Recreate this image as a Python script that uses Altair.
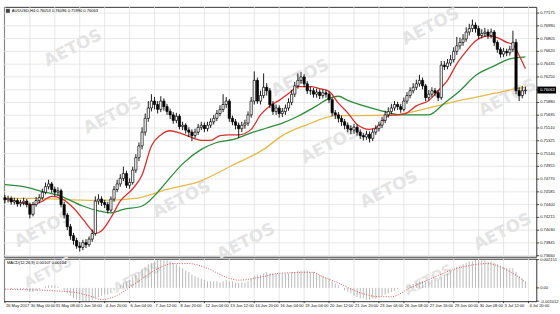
import altair as alt
import pandas as pd

# ---------------- data ----------------
closes = [
    0.7447, 0.7449, 0.7444, 0.7446, 0.7441, 0.7443, 0.7445, 0.7440, 0.7426, 0.7440,
    0.7446, 0.7450, 0.7458, 0.7466, 0.7470, 0.7462, 0.7458, 0.7460, 0.7440, 0.7425,
    0.7408, 0.7395, 0.7388, 0.7380, 0.7378, 0.7385, 0.7382, 0.7390, 0.7398, 0.7445,
    0.7448, 0.7443, 0.7440, 0.7432, 0.7448, 0.7462, 0.7470, 0.7478, 0.7485, 0.7468,
    0.7472, 0.7490, 0.7508, 0.7525, 0.7545, 0.7565, 0.7580, 0.7590, 0.7585, 0.7578,
    0.7590, 0.7582, 0.7575, 0.7570, 0.7562, 0.7568, 0.7553, 0.7555, 0.7548, 0.7545,
    0.7540, 0.7545, 0.7552, 0.7555, 0.7550, 0.7555, 0.7560, 0.7565, 0.7572, 0.7578,
    0.7585, 0.7590, 0.7565, 0.7560, 0.7555, 0.7550, 0.7555, 0.7558, 0.7570, 0.7590,
    0.7620, 0.7590, 0.7598, 0.7610, 0.7605, 0.7585, 0.7575, 0.7580, 0.7572, 0.7575,
    0.7580, 0.7588, 0.7600, 0.7612, 0.7620, 0.7625, 0.7615, 0.7605, 0.7605, 0.7600,
    0.7603, 0.7598, 0.7602, 0.7600, 0.7592, 0.7573, 0.7570, 0.7565, 0.7560, 0.7555,
    0.7550, 0.7548, 0.7552, 0.7545, 0.7540, 0.7538, 0.7542, 0.7536, 0.7545, 0.7550,
    0.7555, 0.7562, 0.7570, 0.7575, 0.7580, 0.7585, 0.7582, 0.7578, 0.7590, 0.7598,
    0.7605, 0.7610, 0.7615, 0.7620, 0.7612, 0.7595, 0.7600, 0.7605, 0.7602, 0.7595,
    0.7642, 0.7640, 0.7645, 0.7650, 0.7662, 0.7670, 0.7675, 0.7680, 0.7690, 0.7695,
    0.7700, 0.7695, 0.7685, 0.7688, 0.7690, 0.7685, 0.7690, 0.7675, 0.7665, 0.7658,
    0.7662, 0.7660, 0.7665, 0.7675, 0.7605, 0.7598, 0.7605, 0.7606,
]
first_open = 0.7450
highs = [
    0.7454, 0.7453, 0.7452, 0.7450, 0.7449, 0.7447, 0.7450, 0.7448, 0.7443, 0.7444,
    0.7451, 0.7455, 0.7463, 0.7472, 0.7476, 0.7473, 0.7466, 0.7465, 0.7463, 0.7444,
    0.7428, 0.7412, 0.7399, 0.7392, 0.7386, 0.7389, 0.7390, 0.7394, 0.7404, 0.7452,
    0.7455, 0.7452, 0.7447, 0.7444, 0.7452, 0.7467, 0.7476, 0.7484, 0.7495, 0.7489,
    0.7478, 0.7495, 0.7513, 0.7530, 0.7552, 0.7572, 0.7590, 0.7600, 0.7596, 0.7590,
    0.7597, 0.7594, 0.7586, 0.7579, 0.7574, 0.7573, 0.7571, 0.7560, 0.7558, 0.7552,
    0.7549, 0.7550, 0.7557, 0.7560, 0.7559, 0.7560, 0.7565, 0.7570, 0.7577, 0.7584,
    0.7600, 0.7596, 0.7593, 0.7569, 0.7564, 0.7559, 0.7560, 0.7563, 0.7575, 0.7596,
    0.7633, 0.7624, 0.7605, 0.7630, 0.7616, 0.7609, 0.7590, 0.7585, 0.7584, 0.7580,
    0.7585, 0.7594, 0.7606, 0.7618, 0.7630, 0.7632, 0.7629, 0.7619, 0.7611, 0.7609,
    0.7608, 0.7607, 0.7607, 0.7606, 0.7604, 0.7595, 0.7577, 0.7574, 0.7569, 0.7564,
    0.7559, 0.7555, 0.7557, 0.7556, 0.7549, 0.7544, 0.7547, 0.7546, 0.7550, 0.7555,
    0.7560, 0.7567, 0.7576, 0.7581, 0.7586, 0.7590, 0.7589, 0.7586, 0.7595, 0.7603,
    0.7610, 0.7616, 0.7621, 0.7628, 0.7624, 0.7615, 0.7606, 0.7610, 0.7609, 0.7606,
    0.7648, 0.7648, 0.7651, 0.7657, 0.7668, 0.7683, 0.7682, 0.7687, 0.7697, 0.7702,
    0.7708, 0.7704, 0.7699, 0.7694, 0.7696, 0.7694, 0.7695, 0.7693, 0.7678, 0.7668,
    0.7667, 0.7666, 0.7670, 0.7692, 0.7680, 0.7610, 0.7612, 0.7611,
]
lows = [
    0.7442, 0.7443, 0.7440, 0.7440, 0.7437, 0.7437, 0.7439, 0.7436, 0.7420, 0.7423,
    0.7437, 0.7442, 0.7447, 0.7455, 0.7462, 0.7457, 0.7452, 0.7453, 0.7436, 0.7420,
    0.7403, 0.7389, 0.7382, 0.7376, 0.7372, 0.7374, 0.7377, 0.7379, 0.7386, 0.7395,
    0.7440, 0.7438, 0.7435, 0.7427, 0.7429, 0.7444, 0.7458, 0.7466, 0.7474, 0.7464,
    0.7463, 0.7469, 0.7486, 0.7503, 0.7520, 0.7540, 0.7560, 0.7575, 0.7578, 0.7572,
    0.7574, 0.7576, 0.7570, 0.7564, 0.7557, 0.7558, 0.7549, 0.7548, 0.7543, 0.7538,
    0.7532, 0.7536, 0.7541, 0.7548, 0.7545, 0.7546, 0.7551, 0.7556, 0.7561, 0.7568,
    0.7574, 0.7580, 0.7560, 0.7555, 0.7549, 0.7537, 0.7545, 0.7550, 0.7554, 0.7566,
    0.7585, 0.7586, 0.7585, 0.7594, 0.7598, 0.7580, 0.7570, 0.7570, 0.7566, 0.7567,
    0.7570, 0.7576, 0.7584, 0.7596, 0.7608, 0.7615, 0.7610, 0.7600, 0.7599, 0.7595,
    0.7595, 0.7593, 0.7594, 0.7595, 0.7587, 0.7568, 0.7564, 0.7559, 0.7554, 0.7549,
    0.7545, 0.7542, 0.7543, 0.7540, 0.7535, 0.7533, 0.7534, 0.7530, 0.7532, 0.7541,
    0.7546, 0.7551, 0.7558, 0.7566, 0.7571, 0.7576, 0.7577, 0.7573, 0.7575, 0.7586,
    0.7594, 0.7601, 0.7606, 0.7611, 0.7607, 0.7590, 0.7591, 0.7596, 0.7597, 0.7590,
    0.7592, 0.7635, 0.7636, 0.7641, 0.7646, 0.7657, 0.7665, 0.7670, 0.7676, 0.7685,
    0.7690, 0.7689, 0.7680, 0.7681, 0.7683, 0.7680, 0.7681, 0.7670, 0.7660, 0.7653,
    0.7654, 0.7655, 0.7656, 0.7661, 0.7600, 0.7590, 0.7594, 0.7600,
]

# moving averages (bar index, value) read at sample points
red_idx = [0, 3, 9, 12, 15, 18, 22, 25, 28, 29, 31, 34, 37, 41, 44, 47, 50, 53, 56, 60,
           63, 66, 69, 72, 75, 79, 82, 85, 88, 91, 94, 98, 101, 104, 107, 110, 113, 117,
           120, 123, 126, 129, 132, 136, 139, 142, 145, 148, 151, 155, 158, 161, 163, 165, 167]
red_val = [0.7449, 0.7445, 0.7440, 0.7445, 0.7452, 0.7449, 0.7435, 0.7419, 0.7402, 0.7398,
           0.7402, 0.7421, 0.7445, 0.7463, 0.7483, 0.7525, 0.7541, 0.7547, 0.7544, 0.7537,
           0.7533, 0.7533, 0.7540, 0.7541, 0.7541, 0.7549, 0.7570, 0.7583, 0.7591, 0.7601,
           0.7611, 0.7611, 0.7608, 0.7604, 0.7587, 0.7573, 0.7556, 0.7549, 0.7554, 0.7569,
           0.7570, 0.7573, 0.7583, 0.7591, 0.7605, 0.7620, 0.7644, 0.7662, 0.7677, 0.7684,
           0.7682, 0.7675, 0.7672, 0.7656, 0.7637]
green_idx = [0, 6, 12, 18, 25, 30, 34, 38, 44, 50, 53, 57, 63, 68, 73, 79, 84, 89, 94, 100,
             104, 107, 110, 120, 127, 136, 141, 146, 151, 157, 162, 167]
green_val = [0.7469, 0.7466, 0.7459, 0.7452, 0.7438, 0.7431, 0.7428, 0.7433, 0.7438, 0.7463,
             0.7479, 0.7499, 0.7520, 0.7530, 0.7534, 0.7544, 0.7551, 0.7558, 0.7568, 0.7583,
             0.7594, 0.7597, 0.7591, 0.7577, 0.7570, 0.7570, 0.7587, 0.7605, 0.7627, 0.7641,
             0.7651, 0.7654]
yellow_idx = [0, 10, 21, 31, 42, 52, 62, 73, 83, 89, 97, 103, 106, 114, 125, 136, 146, 157, 164, 167]
yellow_val = [0.7449, 0.7449, 0.7447, 0.7446, 0.7449, 0.7462, 0.7473, 0.7497, 0.7520, 0.7540,
              0.7556, 0.7566, 0.7569, 0.7569, 0.7570, 0.7580, 0.7591, 0.7601, 0.7608, 0.7610]

# MACD main (histogram) per bar, and signal line at sample points
macd_main = [
    0.0000, 0.0000, -0.0001, -0.0001, -0.0001, -0.0001, -0.0001, -0.0002, -0.0003, -0.0003,
    -0.0002, -0.0001, 0.0000, 0.0001, 0.0002, 0.0002, 0.0002, 0.0001,
    0.0000, -0.0002, -0.0004, -0.0006, -0.0008, -0.0009, -0.0009, -0.0010, -0.0010, -0.0010,
    -0.0009, -0.0008,
    -0.0007, -0.0006, -0.0005, -0.0005, -0.0004, -0.0002, 0.0000, 0.0002, 0.0004, 0.0005,
    0.0006, 0.0008, 0.0010, 0.0012, 0.0014,
    0.0016, 0.0018, 0.0019, 0.0020, 0.0021, 0.00215, 0.0021, 0.0021, 0.0020, 0.0019, 0.0018,
    0.0016, 0.0015, 0.0013, 0.0012, 0.0010, 0.0009, 0.0008, 0.0007, 0.0006, 0.0005,
    0.0005, 0.0005, 0.0005, 0.0004, 0.0005, 0.0006, 0.0005,
    0.0005, 0.0004, 0.0004, 0.0004, 0.0004, 0.0005, 0.0007, 0.0009, 0.0010, 0.0010,
    0.0011, 0.0012, 0.0011,
    0.0011, 0.0011, 0.0011, 0.0011, 0.0011, 0.0011, 0.0012, 0.0012, 0.0013, 0.0013,
    0.0013, 0.0013, 0.0012, 0.0012, 0.0011, 0.0010, 0.0009, 0.0008, 0.0007,
    0.0005, 0.0003, 0.0002, 0.0000, -0.0002, -0.0003, -0.0004, -0.0006, -0.0007, -0.0008,
    -0.0008, -0.0009, -0.0009, -0.0008, -0.0008, -0.0007,
    -0.0006, -0.0005, -0.0004, -0.0003, -0.0002, -0.0001, 0.0000, 0.0000, 0.0001, 0.0002,
    0.0003, 0.0004, 0.0005, 0.0005, 0.0005, 0.0005, 0.0006, 0.0006, 0.0006, 0.0008,
    0.0010, 0.0011, 0.0013, 0.0014, 0.0016, 0.0017, 0.0018, 0.0019, 0.0020, 0.0020,
    0.0021, 0.0021, 0.0021, 0.0021, 0.0020, 0.0020, 0.0019, 0.0018, 0.0017, 0.0016,
    0.0015, 0.0015, 0.0015, 0.0012, 0.0009, 0.0007, 0.0005,
]
sig_idx = [0, 21, 28, 31, 35, 42, 48, 54, 59, 65, 71, 75, 82, 88, 99, 101, 107, 114, 120,
           124, 130, 137, 143, 149, 155, 160, 164, 167]
sig_val = [-0.0001, -0.0003, -0.00067, -0.00089, -0.00067, 0.00037, 0.00133, 0.00185, 0.00185,
           0.00148, 0.00082, 0.00059, 0.00082, 0.00111, 0.00119, 0.00096, 0.00037, -0.00037,
           -0.00067, -0.00067, 0.0, 0.00074, 0.00133, 0.0017, 0.00185, 0.00148, 0.00096, 0.00044]

x_tick_idx = [0, 8, 16, 24, 32, 40, 48, 56, 64, 72, 80, 88, 96, 104, 112, 120, 128, 136,
              144, 152, 160, 168]
x_labels = ["26 May 2017", "30 May 00:00", "31 May 08:00", "1 Jun 16:00", "4 Jun 20:00",
            "6 Jun 04:00", "7 Jun 12:00", "8 Jun 20:00", "12 Jun 04:00", "13 Jun 12:00",
            "14 Jun 20:00", "16 Jun 04:00", "19 Jun 04:00", "20 Jun 12:00", "21 Jun 20:00",
            "23 Jun 04:00", "26 Jun 08:00", "27 Jun 16:00", "29 Jun 00:00", "30 Jun 08:00",
            "3 Jul 12:00", "4 Jul 20:00"]
price_ticks = [0.77175, 0.76990, 0.76805, 0.76620, 0.76435, 0.76250, 0.76065, 0.75880,
               0.75695, 0.75510, 0.75325, 0.75140, 0.74955, 0.74770, 0.74585, 0.74400,
               0.74215, 0.74030, 0.73845, 0.73660]
price_tick_text = ["0.77175", "0.76990", "0.76805", "0.76620", "0.76435", "0.76250",
                   "0.76065", "0.75880", "0.75695", "0.75510", "0.75325", "0.75140",
                   "0.74955", "0.74770", "0.74585", "0.74400", "0.74215", "0.74030",
                   "0.73845", "0.73660"]
macd_ticks = [0.00215, 0.0, -0.00101]
macd_tick_text = ["0.002151", "0.00", "-0.001012"]

title_text = "AUDUSD,H4  0.76053 0.76096 0.75990 0.76063"
macd_text = "MACD(12,26,9) 0.00107 0.00104"
last_price_text = "0.76063"
watermark = "AETOS"
wm_main = [(70, 42), (300, 72), (432, 20), (110, 110), (330, 140), (510, 92), (180, 195),
           (390, 185), (40, 225), (245, 238), (505, 228)]
wm_macd = [(135, 20), (430, 22), (45, 14)]

# ---------------- chart ----------------
FONT = "Liberation Sans"
FS = 4.1
n = len(closes)
opens = [first_open] + closes[:-1]
candles = pd.DataFrame({"i": list(range(n)), "open": opens, "high": highs,
                        "low": lows, "close": closes})
one = pd.DataFrame({"a": [0]})

W = 539
H1 = 253
H2 = 43
xs = alt.Scale(domain=[-0.32, 170.5], nice=False, zero=False)
ys = alt.Scale(domain=[0.73645, 0.77265], nice=False, zero=False)
my = alt.Scale(domain=[-0.00101, 0.00222], nice=False, zero=False)
GRID = "#e0e0e0"


def wm_layers(points, size=17):
    return [alt.Chart(one).mark_text(
        text=watermark, font="DejaVu Sans", fontSize=size, fontWeight="bold", angle=333,
        color="#e4e4e4").encode(x=alt.value(px), y=alt.value(py)) for px, py in points]


xt_df = pd.DataFrame({"i": x_tick_idx, "t": x_labels})
pt_df = pd.DataFrame({"v": price_ticks, "t": price_tick_text})
mt_df = pd.DataFrame({"v": macd_ticks, "t": macd_tick_text})

# main panel ------------------------------------------------------
vgrid = alt.Chart(xt_df).mark_rule(color=GRID, strokeWidth=0.8).encode(
    x=alt.X("i:Q", scale=xs, axis=None), y=alt.value(0), y2=alt.value(H1))
hgrid = alt.Chart(pt_df).mark_rule(color=GRID, strokeWidth=0.8).encode(
    y=alt.Y("v:Q", scale=ys, axis=None), x=alt.value(0), x2=alt.value(W))
yticks = alt.Chart(pt_df).mark_rule(color="#222222", strokeWidth=0.8).encode(
    y=alt.Y("v:Q", scale=ys, axis=None), x=alt.value(W), x2=alt.value(W + 3))
ylabels = alt.Chart(pt_df).mark_text(
    align="left", baseline="middle", font=FONT, fontSize=FS, color="#111111").encode(
    y=alt.Y("v:Q", scale=ys, axis=None), x=alt.value(W + 4), text="t:N")

base = alt.Chart(candles)
wicks = base.mark_rule(color="black", strokeWidth=0.9).encode(
    x=alt.X("i:Q", scale=xs, axis=None),
    y=alt.Y("low:Q", scale=ys, axis=None), y2="high:Q")
bodies = base.transform_calculate(
    xl="datum.i - 0.36", xr="datum.i + 0.36"
).mark_rect(stroke="black", strokeWidth=0.7).encode(
    x=alt.X("xl:Q", scale=xs, axis=None), x2="xr:Q",
    y=alt.Y("open:Q", scale=ys, axis=None), y2="close:Q",
    fill=alt.condition("datum.close >= datum.open", alt.value("white"), alt.value("black")))


def ma_line(idx, vals, color, width):
    d = pd.DataFrame({"i": idx, "v": vals})
    return alt.Chart(d).mark_line(color=color, strokeWidth=width, interpolate="monotone").encode(
        x=alt.X("i:Q", scale=xs, axis=None), y=alt.Y("v:Q", scale=ys, axis=None))


yellow = ma_line(yellow_idx, yellow_val, "#e3b948", 1.3)
green = ma_line(green_idx, green_val, "#2f8a3a", 1.3)
red = ma_line(red_idx, red_val, "#d4312f", 1.3)

title_layer = alt.Chart(one).mark_text(
    text=title_text, align="left", baseline="middle", font=FONT, fontSize=FS,
    color="black").encode(x=alt.value(8), y=alt.value(4))
icon_layer = alt.Chart(one).mark_rect(color="#444444").encode(
    x=alt.value(2), x2=alt.value(6), y=alt.value(2), y2=alt.value(6))

last_df = pd.DataFrame({"v": [closes[-1]], "t": [last_price_text]})
last_box = alt.Chart(last_df).mark_rule(color="black", strokeWidth=7).encode(
    x=alt.value(W + 1), x2=alt.value(W + 20), y=alt.Y("v:Q", scale=ys, axis=None))
last_txt = alt.Chart(last_df).mark_text(
    align="left", baseline="middle", font=FONT, fontSize=FS, color="white").encode(
    x=alt.value(W + 4), y=alt.Y("v:Q", scale=ys, axis=None), text="t:N")

main = alt.layer(vgrid, hgrid, *wm_layers(wm_main), yellow, green, red, wicks, bodies,
                 yticks, ylabels, title_layer, icon_layer, last_box, last_txt
                 ).properties(width=W, height=H1)

# MACD panel -------------------------------------------------------
macd_df = pd.DataFrame({"i": list(range(n)), "m": macd_main})
vgrid2 = alt.Chart(xt_df).mark_rule(color=GRID, strokeWidth=0.8).encode(
    x=alt.X("i:Q", scale=xs, axis=None), y=alt.value(0), y2=alt.value(H2))
xticks = alt.Chart(xt_df).mark_rule(color="#222222", strokeWidth=0.8).encode(
    x=alt.X("i:Q", scale=xs, axis=None), y=alt.value(H2), y2=alt.value(H2 + 2))
xlabels = alt.Chart(xt_df).mark_text(
    align="left", baseline="top", font=FONT, fontSize=FS, color="#111111", dx=1).encode(
    x=alt.X("i:Q", scale=xs, axis=None), y=alt.value(H2 + 3), text="t:N")
myticks = alt.Chart(mt_df).mark_rule(color="#222222", strokeWidth=0.8).encode(
    y=alt.Y("v:Q", scale=my, axis=None), x=alt.value(W), x2=alt.value(W + 3))
mylabels = alt.Chart(mt_df).mark_text(
    align="left", baseline="top", font=FONT, fontSize=FS, color="#111111", dy=-1.5).encode(
    y=alt.Y("v:Q", scale=my, axis=None), x=alt.value(W + 4), text="t:N")

hist = alt.Chart(macd_df).transform_calculate(z="0").mark_rule(
    color="#a8a8a8", strokeWidth=0.8).encode(
    x=alt.X("i:Q", scale=xs, axis=None),
    y=alt.Y("m:Q", scale=my, axis=None), y2="z:Q")
sig = alt.Chart(pd.DataFrame({"i": sig_idx, "s": sig_val})).mark_line(
    color="#d04a4a", strokeWidth=0.9, strokeDash=[1, 1.5], interpolate="monotone").encode(
    x=alt.X("i:Q", scale=xs, axis=None), y=alt.Y("s:Q", scale=my, axis=None))
macd_title = alt.Chart(one).mark_text(
    text=macd_text, align="left", baseline="middle", font=FONT, fontSize=FS,
    color="black").encode(x=alt.value(3), y=alt.value(4))

macd = alt.layer(vgrid2, *wm_layers(wm_macd, 14), hist, sig, macd_title, xticks, xlabels,
                 myticks, mylabels).properties(width=W, height=H2)

chart = alt.vconcat(main, macd, spacing=2, bounds="flush").properties(
    padding={"left": 1, "top": 2, "right": 0, "bottom": 0},
    background="white",
).configure_view(stroke="#333333", strokeWidth=1)

chart.save("out.html", embed_options={"renderer": "svg", "actions": False})
